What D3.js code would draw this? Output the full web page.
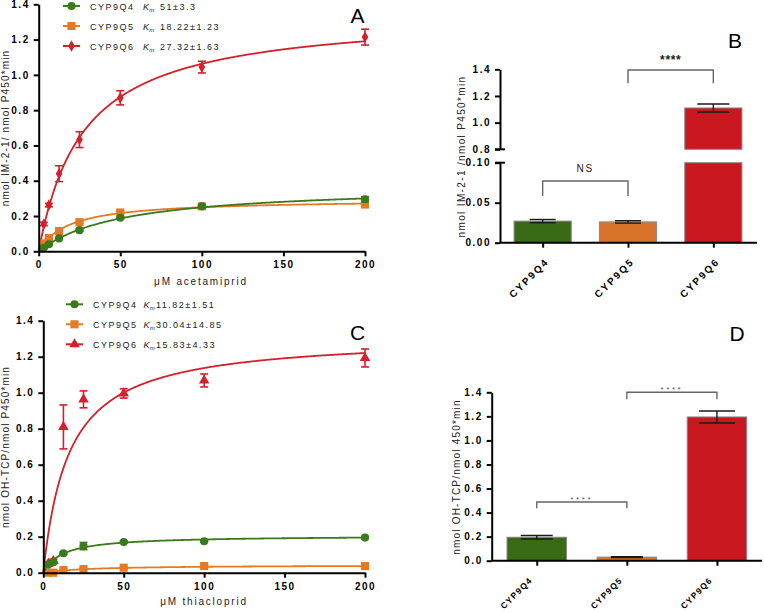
<!DOCTYPE html>
<html><head><meta charset="utf-8">
<script src="https://cdn.jsdelivr.net/npm/d3@7"></script>
<style>body{margin:0;background:#fff} svg{display:block;font-family:"Liberation Sans",Arial,sans-serif}</style>
</head><body><svg id="c" width="764" height="613"></svg>
<script>
// ---------- DATA ----------
const enzymes = ["CYP9Q4", "CYP9Q5", "CYP9Q6"];
const concentrations = [3.125, 6.25, 12.5, 25, 50, 100, 200];
const xTicks = [0, 50, 100, 150, 200];
const yTicks = [0, 0.2, 0.4, 0.6, 0.8, 1.0, 1.2, 1.4];

// Panel A: acetamiprid kinetics
const acetKmLabel = ["51±3.3", "18.22±1.23", "27.32±1.63"];
const acetKm = [51, 18.22, 27.32];
const acetVmax = [0.376, 0.295, 1.353];
const acetQ4 = [0.02, 0.04, 0.073, 0.12, 0.19, 0.255, 0.295];
const acetQ4Err = [0.004, 0.004, 0.005, 0.006, 0.006, 0.008, 0.015];
const acetQ5 = [0.045, 0.075, 0.115, 0.165, 0.22, 0.255, 0.265];
const acetQ5Err = [0.004, 0.004, 0.005, 0.006, 0.006, 0.008, 0.006];
const acetQ6 = [0.155, 0.262, 0.44, 0.633, 0.87, 1.044, 1.214];
const acetQ6Err = [0.01, 0.01, 0.045, 0.045, 0.04, 0.033, 0.045];

// Panel B: IM-2-1 formation at single concentration
const barB = [0.027, 0.026, 1.11];
const barBErr = [0.002, 0.0015, 0.03];
const yTicksBLow = [0, 0.05, 0.10];
const yTicksBHigh = [0.8, 1.0, 1.2, 1.4];

// Panel C: thiacloprid kinetics
const thiaKmLabel = ["11.82±1.51", "30.04±14.85", "15.83±4.33"];
const thiaKm = [11.82, 30.04, 15.83];
const thiaVmax = [0.2065, 0.0426, 1.317];
const thiaQ4 = [0.045, 0.058, 0.108, 0.148, 0.17, 0.175, 0.195];
const thiaQ4Err = [0.005, 0.005, 0.006, 0.02, 0.006, 0.006, 0.006];
const thiaQ5 = [0.0, 0.0, 0.015, 0.02, 0.028, 0.037, 0.037];
const thiaQ5Err = [0.003, 0.003, 0.003, 0.003, 0.003, 0.004, 0.004];
const thiaQ6 = [0.05, 0.065, 0.81, 0.963, 0.996, 1.068, 1.193];
const thiaQ6Err = [0.01, 0.01, 0.122, 0.047, 0.026, 0.036, 0.05];

// Panel D: OH-TCP formation
const barD = [0.195, 0.03, 1.195];
const barDErr = [0.015, 0.004, 0.05];

// ---------- STYLE ----------
const lineCol = ["#3b7a1c", "#e47a25", "#d3202a"];
const barCol = ["#386b13", "#d9722a", "#c9181f"];
const symbolsA = [d3.symbolCircle, d3.symbolSquare, d3.symbolDiamond];
const symbolsC = [d3.symbolCircle, d3.symbolSquare, d3.symbolTriangle];
const symSize = [52, 66, 38];
const symSizeC = [52, 66, 48];

const svg = d3.select("#c");

function styleAxis(g) {
  g.select(".domain").attr("stroke", "#000").attr("stroke-width", 2);
  g.selectAll(".tick line").attr("stroke", "#000").attr("stroke-width", 2);
  g.selectAll(".tick text").attr("fill", "#000").attr("font-size", 10)
    .attr("font-weight", "bold").attr("letter-spacing", 1.5)
    .attr("font-family", "'Liberation Sans',Arial,sans-serif");
}

function kineticPanel(o) {
  const x = d3.scaleLinear().domain([0, 200]).range(o.xr);
  const y = d3.scaleLinear().domain([0, 1.4]).range(o.yr);
  const g = svg.append("g");
  [2, 1, 0].forEach(i => {
    const km = o.km[i], vm = o.vmax[i];
    const fx = d3.range(0, 200.01, 0.5);
    g.append("path")
      .attr("d", d3.line().x(d => x(d)).y(d => y(vm * d / (km + d)))(fx))
      .attr("fill", "none").attr("stroke", lineCol[i]).attr("stroke-width", 1.8);
    const vals = o.series[i], errs = o.errs[i];
    concentrations.forEach((c, j) => {
      const cx = x(c), v = vals[j], e = errs[j];
      const eg = g.append("g").attr("stroke", lineCol[i]).attr("stroke-width", 1.6);
      eg.append("line").attr("x1", cx).attr("x2", cx).attr("y1", y(v - e)).attr("y2", y(v + e));
      eg.append("line").attr("x1", cx - 4).attr("x2", cx + 4).attr("y1", y(v - e)).attr("y2", y(v - e));
      eg.append("line").attr("x1", cx - 4).attr("x2", cx + 4).attr("y1", y(v + e)).attr("y2", y(v + e));
      g.append("path").attr("d", d3.symbol().type(o.symbols[i]).size(o.sizes[i])())
        .attr("transform", `translate(${cx},${y(v)})`).attr("fill", lineCol[i]);
    });
  });
  const ya = svg.append("g").attr("transform", `translate(${o.xr[0]},0)`)
    .call(d3.axisLeft(y).tickValues(yTicks).tickFormat(d3.format(".1f")).tickSize(5).tickSizeOuter(0).tickPadding(4));
  styleAxis(ya);
  const xa = svg.append("g").attr("transform", `translate(0,${o.yr[0]})`)
    .call(d3.axisBottom(x).tickValues(xTicks).tickFormat(d3.format("d")).tickSize(5).tickSizeOuter(0).tickPadding(5));
  styleAxis(xa);
  svg.append("text").attr("x", o.xTitle[0]).attr("y", o.xTitle[1]).attr("text-anchor", "middle")
    .attr("font-size", 10).attr("letter-spacing", 1.8).attr("fill", "#222").text(o.xTitleText);
  svg.append("text").attr("transform", `translate(${o.yTitle[0]},${o.yTitle[1]}) rotate(-90)`)
    .attr("text-anchor", "middle").attr("font-size", 10).attr("letter-spacing", 1.15).attr("fill", "#222").text(o.yTitleText);
  enzymes.forEach((name, i) => {
    const ly = o.leg[1] + i * 20;
    svg.append("line").attr("x1", o.leg[0] - 8.5).attr("x2", o.leg[0] + 8.5).attr("y1", ly).attr("y2", ly)
      .attr("stroke", lineCol[i]).attr("stroke-width", 2);
    svg.append("path").attr("d", d3.symbol().type(o.symbols[i]).size(o.sizes[i])())
      .attr("transform", `translate(${o.leg[0]},${ly})`).attr("fill", lineCol[i]);
    svg.append("text").attr("x", o.leg[2]).attr("y", ly + 3.5).attr("font-size", 9)
      .attr("letter-spacing", 1.5).attr("fill", "#222").text(name);
    const k = svg.append("text").attr("x", o.leg[3]).attr("y", ly + 3.5).attr("font-size", 9)
      .attr("font-style", "italic").attr("fill", "#222");
    k.append("tspan").text("K");
    k.append("tspan").attr("font-size", 6).attr("dy", 2).attr("dx", 0.3).text("m");
    svg.append("text").attr("x", o.leg[4]).attr("y", ly + 3.5).attr("font-size", 9)
      .attr("letter-spacing", 1.5).attr("fill", "#222").text(o.kmLabel[i]);
  });
  svg.append("text").attr("x", o.letter[0]).attr("y", o.letter[1]).attr("text-anchor", "middle")
    .attr("font-size", 21).attr("fill", "#000").text(o.letterText);
}

kineticPanel({
  xr: [38.7, 365], yr: [251.3, 4.3], km: acetKm, vmax: acetVmax,
  series: [acetQ4, acetQ5, acetQ6], errs: [acetQ4Err, acetQ5Err, acetQ6Err],
  symbols: symbolsA, sizes: symSize, kmLabel: acetKmLabel,
  xTitle: [201, 285], xTitleText: "μM acetamiprid",
  yTitle: [8.5, 128], yTitleText: "nmol IM-2-1/ nmol P450*min",
  leg: [71.5, 6, 90, 143, 160], letter: [357.5, 23], letterText: "A"
});
kineticPanel({
  xr: [43.3, 365], yr: [572.7, 320.7], km: thiaKm, vmax: thiaVmax,
  series: [thiaQ4, thiaQ5, thiaQ6], errs: [thiaQ4Err, thiaQ5Err, thiaQ6Err],
  symbols: symbolsC, sizes: symSizeC, kmLabel: thiaKmLabel,
  xTitle: [204, 605], xTitleText: "μM thiacloprid",
  yTitle: [8.5, 447], yTitleText: "nmol OH-TCP/nmol P450*min",
  leg: [74.5, 304.3, 93, 143.5, 156], letter: [357.5, 340], letterText: "C"
});

// ---------- Panel B (broken axis) ----------
(function () {
  const x = d3.scalePoint().domain(enzymes).range([500, 756]).padding(0.5);
  const bw = x.step() * 0.67;
  const yLo = d3.scaleLinear().domain([0, 0.10]).range([242.7, 162.7]);
  const yHi = d3.scaleLinear().domain([0.8, 1.4]).range([149.3, 69.3]);
  const g = svg.append("g");
  enzymes.forEach((e, i) => {
    const v = barB[i], er = barBErr[i], cx = x(e);
    if (v <= 0.10) {
      g.append("rect").attr("x", cx - bw / 2).attr("width", bw).attr("y", yLo(v)).attr("height", yLo(0) - yLo(v))
        .attr("fill", barCol[i]).attr("stroke", "#888").attr("stroke-width", 1);
      errBar(g, cx, yLo(v - er), yLo(v + er), 13);
    } else {
      g.append("rect").attr("x", cx - bw / 2).attr("width", bw).attr("y", yLo(0.10)).attr("height", yLo(0) - yLo(0.10))
        .attr("fill", barCol[i]).attr("stroke", "#888").attr("stroke-width", 1);
      g.append("rect").attr("x", cx - bw / 2).attr("width", bw).attr("y", yHi(v)).attr("height", yHi(0.8) - yHi(v))
        .attr("fill", barCol[i]).attr("stroke", "#888").attr("stroke-width", 1);
      errBar(g, cx, yHi(v - er), yHi(v + er), 16);
    }
  });
  const a1 = svg.append("g").attr("transform", "translate(500,0)")
    .call(d3.axisLeft(yLo).tickValues(yTicksBLow).tickFormat(d3.format(".2f")).tickSize(5).tickSizeOuter(0).tickPadding(4));
  styleAxis(a1);
  const a2 = svg.append("g").attr("transform", "translate(500,0)")
    .call(d3.axisLeft(yHi).tickValues(yTicksBHigh).tickFormat(d3.format(".1f")).tickSize(5).tickSizeOuter(0).tickPadding(4));
  styleAxis(a2);
  [yLo(0.10), yHi(0.8)].forEach(yy => svg.append("line").attr("x1", 495).attr("x2", 505).attr("y1", yy).attr("y2", yy)
    .attr("stroke", "#000").attr("stroke-width", 2));
  const xa = svg.append("g").attr("transform", "translate(0,242.7)")
    .call(d3.axisBottom(x).tickSize(5).tickSizeOuter(0).tickFormat(""));
  styleAxis(xa);
  xa.select(".domain").attr("d", "M500,0H757");
  enzymes.forEach(e => svg.append("text").attr("transform", `translate(${x(e) + 4.5},${242.7 + 17}) rotate(-45)`)
    .attr("text-anchor", "end").attr("dy", "0.35em").attr("font-size", 10).attr("font-weight", "bold")
    .attr("letter-spacing", 2).attr("fill", "#000").text(e));
  bracket(x("CYP9Q5"), x("CYP9Q6"), 70, 83.3, "****", 64, 12, "#222", "bold", 0.6);
  bracket(x("CYP9Q4"), x("CYP9Q5"), 181, 196, "NS", 171.7, 10, "#222", "normal", 2);
  svg.append("text").attr("transform", "translate(465,156.5) rotate(-90)").attr("text-anchor", "middle")
    .attr("font-size", 10).attr("letter-spacing", 1.35).attr("fill", "#222").text("nmol IM-2-1 /nmol P450*min");
  svg.append("text").attr("x", 735).attr("y", 48).attr("text-anchor", "middle").attr("font-size", 21).text("B");
})();

// ---------- Panel D ----------
(function () {
  const x = d3.scalePoint().domain(enzymes).range([491.7, 762]).padding(0.5);
  const bw = x.step() * 0.66;
  const y = d3.scaleLinear().domain([0, 1.4]).range([560.7, 392.3]);
  const g = svg.append("g");
  enzymes.forEach((e, i) => {
    const v = barD[i], er = barDErr[i], cx = x(e);
    g.append("rect").attr("x", cx - bw / 2).attr("width", bw).attr("y", y(v)).attr("height", y(0) - y(v))
      .attr("fill", barCol[i]).attr("stroke", "#888").attr("stroke-width", 1);
    errBar(g, cx, y(v - er), y(v + er), i === 2 ? 18 : 16);
  });
  const ya = svg.append("g").attr("transform", "translate(491.7,0)")
    .call(d3.axisLeft(y).tickValues(yTicks).tickFormat(d3.format(".1f")).tickSize(5).tickSizeOuter(0).tickPadding(4));
  styleAxis(ya);
  const xa = svg.append("g").attr("transform", "translate(0,560.7)")
    .call(d3.axisBottom(x).tickSize(5).tickSizeOuter(0).tickFormat(""));
  styleAxis(xa);
  xa.select(".domain").attr("d", "M491.7,0H762");
  enzymes.forEach(e => svg.append("text").attr("transform", `translate(${x(e) - 6},${560.7 + 18}) rotate(-45)`)
    .attr("text-anchor", "end").attr("dy", "0.35em").attr("font-size", 8.5).attr("font-weight", "bold")
    .attr("letter-spacing", 1.2).attr("fill", "#000").text(e));
  bracket(x("CYP9Q5"), x("CYP9Q6"), 392.3, 399.3, "****", 392, 8, "#555", "normal", 2.6);
  bracket(x("CYP9Q4"), x("CYP9Q5"), 502, 508.3, "****", 501.5, 8, "#555", "normal", 2.6);
  svg.append("text").attr("transform", "translate(460,477) rotate(-90)").attr("text-anchor", "middle")
    .attr("font-size", 10).attr("letter-spacing", 1.2).attr("fill", "#222").text("nmol OH-TCP/nmol 450*min");
  svg.append("text").attr("x", 737).attr("y", 341).attr("text-anchor", "middle").attr("font-size", 21).text("D");
})();

function errBar(g, cx, y0, y1, hw) {
  const e = g.append("g").attr("stroke", "#1a1a1a").attr("stroke-width", 1.4);
  e.append("line").attr("x1", cx).attr("x2", cx).attr("y1", y0).attr("y2", y1);
  e.append("line").attr("x1", cx - hw).attr("x2", cx + hw).attr("y1", y0).attr("y2", y0);
  e.append("line").attr("x1", cx - hw).attr("x2", cx + hw).attr("y1", y1).attr("y2", y1);
}
function bracket(x0, x1, yTop, yLeg, label, ty, fs, col, fw, ls) {
  svg.append("path").attr("d", `M${x0},${yLeg}V${yTop}H${x1}V${yLeg}`).attr("fill", "none")
    .attr("stroke", "#666").attr("stroke-width", 1.4);
  svg.append("text").attr("x", (x0 + x1) / 2).attr("y", ty).attr("text-anchor", "middle")
    .attr("font-size", fs).attr("font-weight", fw).attr("letter-spacing", ls).attr("fill", col).text(label);
}
</script></body></html>
